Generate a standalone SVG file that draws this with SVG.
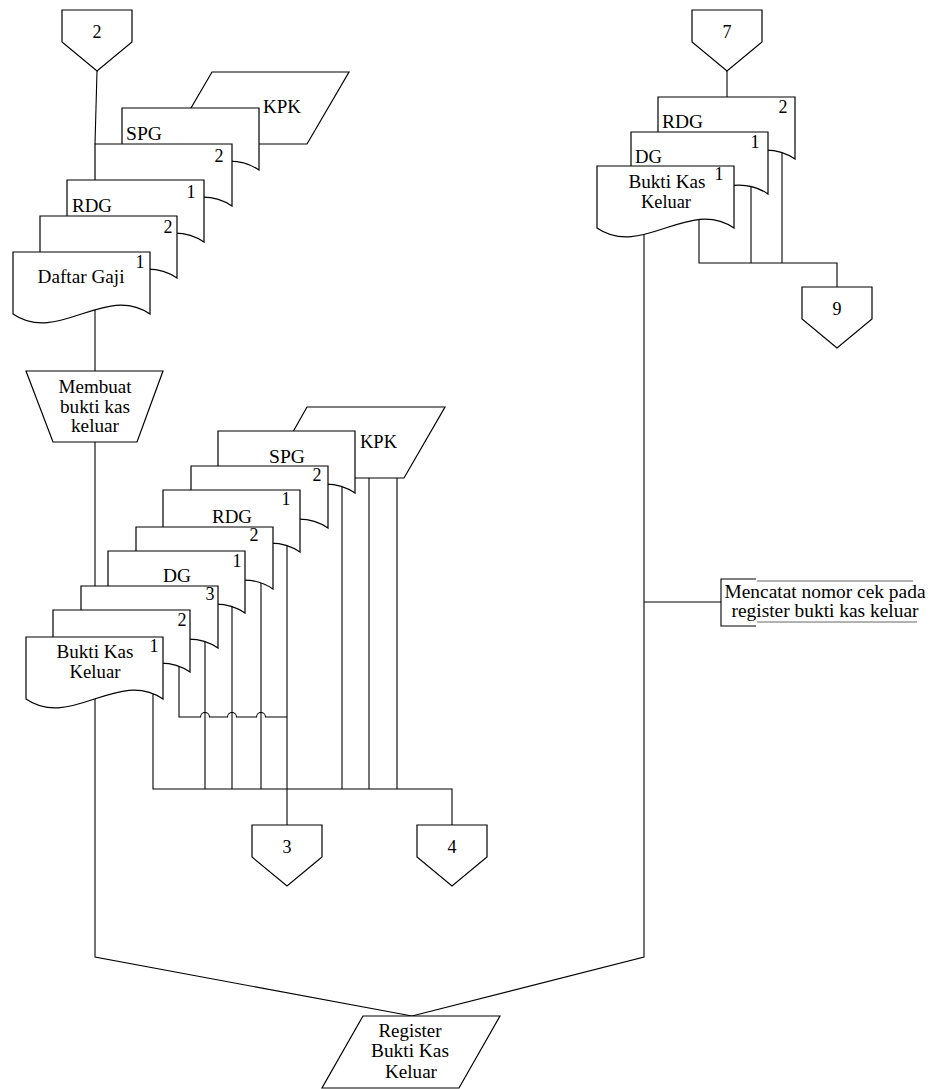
<svg xmlns="http://www.w3.org/2000/svg" width="935" height="1089" viewBox="0 0 935 1089">
<style>
.s{fill:#fff;stroke:#000;stroke-width:1.2}
.c{fill:none;stroke:#000;stroke-width:1.1}
.g{fill:none;stroke:#666;stroke-width:1.1}
text{font-family:"Liberation Serif","Times New Roman",serif;font-size:18px;fill:#000}
.m{text-anchor:middle}
</style>
<defs>
<path id="doc" class="s" d="M0,0 H137 V62 C92,31 45,93 0,62 Z"/>
<path id="off" class="s" d="M0,0 H70 V32 L35,61 L0,32 Z"/>
</defs>
<rect width="935" height="1089" fill="#fff"/>
<g id="connectors">
<path class="c" d="M97,71 L95,144"/>
<path class="c" d="M95,300 V371"/>
<path class="c" d="M95,442 V590"/>
<path class="c" d="M153,690 V789 H452 V825"/>
<path class="c" d="M179,660 V717 H200.5 A4.5,4.5 0 0 1 209.5,717 H227.5 A4.5,4.5 0 0 1 236.5,717 H256.5 A4.5,4.5 0 0 1 265.5,717 H287"/>
<path class="c" d="M205,640 V789"/>
<path class="c" d="M232,605 V789"/>
<path class="c" d="M261,580 V789"/>
<path class="c" d="M287,545 V825"/>
<path class="c" d="M342,485 V789"/>
<path class="c" d="M369,470 V789"/>
<path class="c" d="M397,470 V789"/>
<path class="c" d="M95,695 V957 L412,1016 L644,957 V230"/>
<path class="c" d="M644,602 H721"/>
<path class="c" d="M699,215 V263 H837 V287"/>
<path class="c" d="M751,185 V263"/>
<path class="c" d="M782,150 V263"/>
<path class="c" d="M727,71 V97"/>
</g>
<g id="off2"><use href="#off" x="62" y="10"/><text class="m" x="97" y="38">2</text></g>
<g id="off7"><use href="#off" x="692" y="10"/><text class="m" x="727" y="38">7</text></g>
<g id="off9"><use href="#off" x="802" y="287"/><text class="m" x="837" y="315">9</text></g>
<g id="off3"><use href="#off" x="252" y="825"/><text class="m" x="287" y="853">3</text></g>
<g id="off4"><use href="#off" x="417" y="825"/><text class="m" x="452" y="853">4</text></g>
<!-- top-left stack -->
<g id="kpk1"><polygon class="s" points="212,72 349,72 307,144 170,144"/><text x="263" y="113" textLength="38" lengthAdjust="spacingAndGlyphs">KPK</text></g>
<g id="spg1"><use href="#doc" x="122" y="108"/><text x="126" y="140" textLength="36" lengthAdjust="spacingAndGlyphs">SPG</text></g>
<g id="spg1c2"><use href="#doc" x="95" y="144"/><text class="m" x="219" y="162">2</text></g>
<g id="rdg1"><use href="#doc" x="67" y="180"/><text class="m" x="191" y="198">1</text><text x="72" y="212" textLength="40" lengthAdjust="spacingAndGlyphs">RDG</text></g>
<g id="rdg1c2"><use href="#doc" x="40" y="216"/><text class="m" x="168" y="233">2</text></g>
<g id="daftarGaji"><use href="#doc" x="13" y="252"/><text class="m" x="140" y="268">1</text><text class="m" x="81" y="283" textLength="87" lengthAdjust="spacingAndGlyphs">Daftar Gaji</text></g>
<g id="membuat"><polygon class="s" points="26,371 163,371 137,442 53,442"/>
<text class="m" x="95" y="393" textLength="73" lengthAdjust="spacingAndGlyphs">Membuat</text>
<text class="m" x="95" y="413" textLength="70" lengthAdjust="spacingAndGlyphs">bukti kas</text>
<text class="m" x="95" y="432" textLength="48" lengthAdjust="spacingAndGlyphs">keluar</text></g>
<!-- middle stack -->
<g id="kpk2"><polygon class="s" points="307,407 445,407 404,478 267,478"/><text x="360" y="448" textLength="37" lengthAdjust="spacingAndGlyphs">KPK</text></g>
<g id="spg2"><use href="#doc" x="218" y="431"/><text class="m" x="287" y="463" textLength="36" lengthAdjust="spacingAndGlyphs">SPG</text></g>
<g id="spg2c2"><use href="#doc" x="191" y="466"/><text class="m" x="317" y="481">2</text></g>
<g id="rdg2"><use href="#doc" x="163" y="490"/><text class="m" x="286" y="505">1</text><text class="m" x="232" y="523" textLength="40" lengthAdjust="spacingAndGlyphs">RDG</text></g>
<g id="rdg2c2"><use href="#doc" x="136" y="527"/><text class="m" x="254" y="541">2</text></g>
<g id="dg2"><use href="#doc" x="108" y="551"/><text class="m" x="237" y="567">1</text><text class="m" x="177" y="582" textLength="28" lengthAdjust="spacingAndGlyphs">DG</text></g>
<g id="bkkc3"><use href="#doc" x="81" y="586"/><text class="m" x="210" y="600">3</text></g>
<g id="bkkc2"><use href="#doc" x="53" y="610"/><text class="m" x="182" y="626">2</text></g>
<g id="bkk1"><use href="#doc" x="26" y="637"/><text class="m" x="154" y="652">1</text>
<text class="m" x="95" y="658" textLength="77" lengthAdjust="spacingAndGlyphs">Bukti Kas</text>
<text class="m" x="95" y="678" textLength="51" lengthAdjust="spacingAndGlyphs">Keluar</text></g>
<!-- right stack -->
<g id="rdg3"><use href="#doc" x="658" y="97"/><text class="m" x="783" y="113">2</text><text x="662" y="128" textLength="41" lengthAdjust="spacingAndGlyphs">RDG</text></g>
<g id="dg3"><use href="#doc" x="631" y="132"/><text class="m" x="755" y="148">1</text><text x="635" y="163" textLength="27" lengthAdjust="spacingAndGlyphs">DG</text></g>
<g id="bkk3"><use href="#doc" x="597" y="166"/><text class="m" x="719" y="180">1</text>
<text class="m" x="667" y="188" textLength="77" lengthAdjust="spacingAndGlyphs">Bukti Kas</text>
<text class="m" x="666" y="208" textLength="50" lengthAdjust="spacingAndGlyphs">Keluar</text></g>
<g id="annotation"><path class="c" d="M756,579 H721 V626 H756"/><path class="g" d="M757,581 H913 M757,622 H917"/>
<text class="m" x="825" y="598" textLength="201" lengthAdjust="spacingAndGlyphs">Mencatat nomor cek pada</text>
<text class="m" x="825" y="617" textLength="187" lengthAdjust="spacingAndGlyphs">register bukti kas keluar</text></g>
<g id="register"><polygon class="s" points="363,1016 500,1016 459,1088 322,1088"/>
<text class="m" x="410" y="1037" textLength="63" lengthAdjust="spacingAndGlyphs">Register</text>
<text class="m" x="410" y="1057" textLength="78" lengthAdjust="spacingAndGlyphs">Bukti Kas</text>
<text class="m" x="411" y="1078" textLength="52" lengthAdjust="spacingAndGlyphs">Keluar</text></g>
</svg>
